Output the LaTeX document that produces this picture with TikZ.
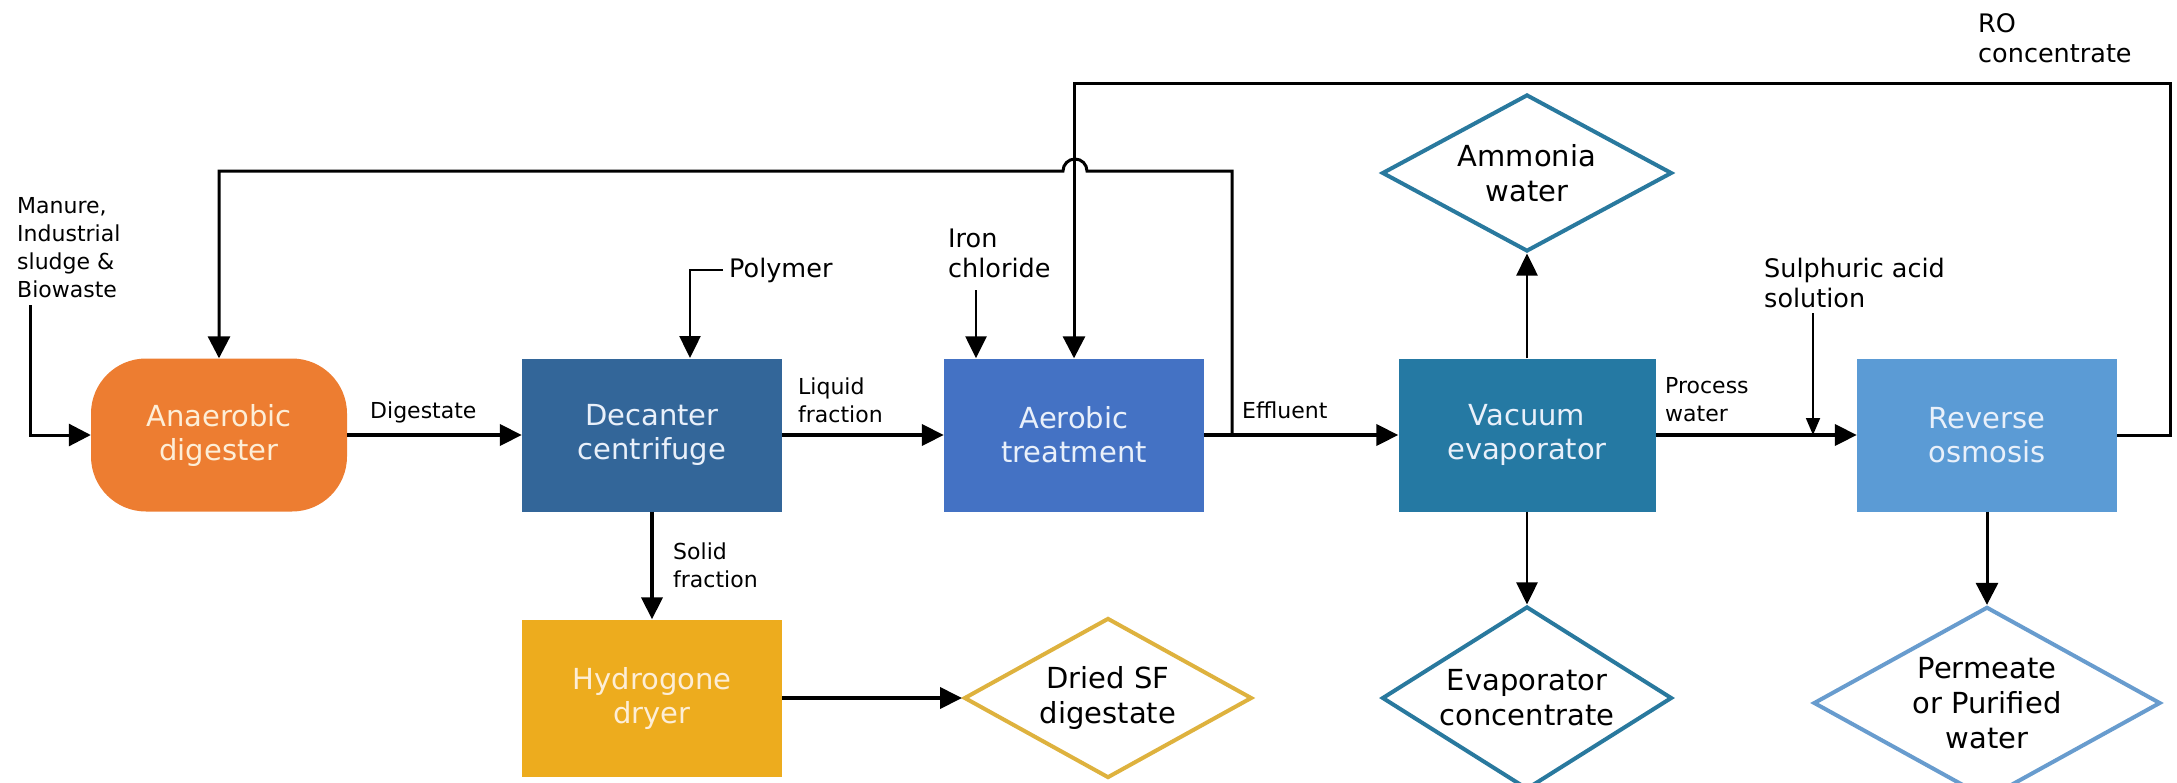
\documentclass[tikz,border=0pt]{standalone}
\usepackage{fontspec}
\setmainfont{DejaVu Sans}
\usepackage{tikz}
\usetikzlibrary{arrows.meta,positioning,shapes.geometric}

\definecolor{digorange}{RGB}{237,125,49}
\definecolor{decblue}{RGB}{51,102,153}
\definecolor{aerblue}{RGB}{68,114,196}
\definecolor{vacblue}{RGB}{37,121,163}
\definecolor{roblue}{RGB}{91,155,213}
\definecolor{drygold}{RGB}{237,172,30}
\definecolor{sfgold}{RGB}{222,178,62}
\definecolor{evapline}{RGB}{41,121,158}
\definecolor{permline}{RGB}{104,156,206}
\definecolor{lighttext}{RGB}{233,240,250}
\definecolor{creamtext}{RGB}{253,238,215}

\begin{document}
\begin{tikzpicture}[x=1pt,y=-1pt,
    unit/.style={rectangle,minimum width=260pt,minimum height=153pt,inner sep=0pt,
        align=center,text=lighttext,font=\fontsize{29}{34}\selectfont},
    product/.style={diamond,draw,line width=4pt,fill=white,inner sep=-12pt,
        align=center,font=\fontsize{29}{35}\selectfont},
    flowlabel/.style={align=left,inner sep=0pt,font=\fontsize{22}{28}\selectfont},
    feedlabel/.style={align=left,inner sep=0pt,font=\fontsize{25.5}{30}\selectfont},
    main/.style={line width=4pt,-{Triangle[length=22pt,width=21pt]}},
    recycle/.style={line width=3pt,-{Triangle[length=22pt,width=22pt]}},
    feed/.style={line width=2.5pt,-{Triangle[length=22pt,width=21pt]}},
    dose/.style={line width=1.8pt,-{Triangle[length=17pt,width=14pt]}}]
            \useasboundingbox (0,0) rectangle (2177,782);

            % process units
            \node [unit,fill=digorange,text=creamtext,rounded corners=55pt,minimum width=256pt] (digester) at (219,435) {Anaerobic\\digester};
            \node [unit,fill=decblue] (decanter) at (652,435) {Decanter\\centrifuge};
            \node [unit,fill=aerblue] (aerobic) at (1074,435) {Aerobic\\treatment};
            \node [unit,fill=vacblue,minimum width=257pt] (evaporator) at (1527,435) {Vacuum\\evaporator};
            \node [unit,fill=roblue] (osmosis) at (1987,435) {Reverse\\osmosis};
            \node [unit,fill=drygold,text=creamtext,minimum height=157pt] (dryer) at (652,698) {Hydrogone\\dryer};

            % products
            \node [product,draw=sfgold,minimum width=288pt,minimum height=160pt] (driedsf) at (1108,698) {Dried SF\\digestate};
            \node [product,draw=evapline,minimum width=290pt,minimum height=157pt] (ammonia) at (1527,173) {Ammonia\\water};
            \node [product,draw=evapline,minimum width=290pt,minimum height=160pt] (concentrate) at (1527,698) {Evaporator\\concentrate};
            \node [product,draw=permline,minimum width=347pt,minimum height=158pt] (permeate) at (1987,703) {Permeate\\or Purified\\water};

            % inputs
            \node [flowlabel,anchor=north west] (manure) at (17,197) {Manure,\\Industrial\\sludge \&\\Biowaste};
            \node [feedlabel,anchor=base west] (polymer) at (729,277) {Polymer};
            \node [feedlabel,anchor=north west] (iron) at (948,229) {Iron\\chloride};
            \node [feedlabel,anchor=north west] (acid) at (1764,258) {Sulphuric acid\\solution};
            \node [feedlabel,anchor=north west] (roconc) at (1978,13) {RO\\concentrate};

            % stream labels
            \node [flowlabel,anchor=north west] (digestate) at (370,402) {Digestate};
            \node [flowlabel,anchor=north west] (liquid) at (798,378) {Liquid\\fraction};
            \node [flowlabel,anchor=north west] (solid) at (673,543) {Solid\\fraction};
            \node [flowlabel,anchor=north west] (effluent) at (1242,402) {Effluent};
            \node [flowlabel,anchor=north west] (process) at (1665,377) {Process\\water};

            \coordinate (feedin) at (30,305);
            \coordinate (polymerdrop) at (690,358);
            \coordinate (ironstart) at (976,290);
            \coordinate (acidstart) at (1813,313);
            \coordinate (effbranch) at (1232,435);
            \coordinate (efftop) at (1232,171);
            \coordinate (rocorner) at (2170,83);

            \draw [recycle] (feedin) |- (digester.west);
            \draw [main] (digester) -- (decanter);
            \draw [main] (decanter) -- (aerobic);
            \draw [main] (aerobic) -- (evaporator);
            \draw [main] (evaporator) -- (osmosis);
            \draw [main] (decanter) -- (dryer);
            \draw [main] (dryer) -- (driedsf);
            \draw [feed] (evaporator) -- (ammonia);
            \draw [feed] (evaporator) -- (concentrate);
            \draw [recycle] (osmosis) -- (permeate);
            \draw [feed] ([xshift=-6pt]polymer.west) -| (polymerdrop);
            \draw [feed] (ironstart) -- (ironstart |- aerobic.north);
            \draw [dose] (acidstart) -- (acidstart |- osmosis.west);
            \draw [recycle] (effbranch) -- (efftop) -- (1087,171) arc [start angle=0,end angle=180,radius=12pt] -- (digester.north |- efftop) -- (digester.north);
            \draw [recycle] (osmosis.east) -| (rocorner) -| (aerobic.north);
        \end{tikzpicture}
\end{document}
